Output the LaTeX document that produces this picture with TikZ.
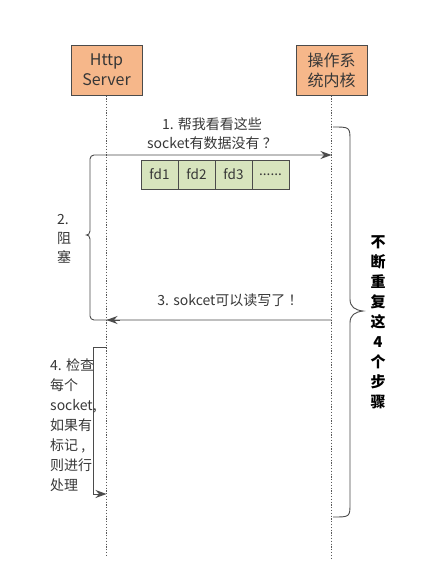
\documentclass[tikz,border=0pt]{standalone}
\usepackage{fontspec}
\setmainfont{Noto Sans CJK SC}
\usetikzlibrary{arrows.meta}
\definecolor{boxorange}{RGB}{246,183,138}
\definecolor{fdgreen}{RGB}{215,228,189}
\definecolor{linegray}{RGB}{75,75,75}
\definecolor{txtgray}{RGB}{55,55,55}
\begin{document}
\begin{tikzpicture}[x=1pt,y=-1pt,
  actor/.style={draw=linegray,fill=boxorange,line width=1pt,minimum width=71pt,minimum height=50pt,align=center,font=\fontsize{16}{20}\selectfont,text=txtgray,inner sep=0pt},
  fdbox/.style={draw=linegray,fill=fdgreen,line width=0.9pt,minimum width=37pt,minimum height=29pt,inner sep=0pt,font=\fontsize{13.5}{16}\selectfont,text=txtgray},
  lifeline/.style={draw=gray!70!black,line width=1.2pt,dash pattern=on 1.2pt off 1.6pt},
  msg/.style={draw=linegray,line width=0.9pt},
  tip/.style={-{Stealth[length=11pt,width=8pt]}},
  lbl/.style={font=\fontsize{14}{19}\selectfont,text=txtgray,align=center,inner sep=0pt}]
\useasboundingbox (0,0) rectangle (426,571);
% actors and lifelines
\node[actor] (http) at (106.5,70) {Http\\Server};
\node[actor] (os) at (331.5,70) {操作系\\统内核};
\coordinate (httpEnd) at (106.5,555);
\coordinate (osEnd) at (331.5,560);
\draw[lifeline] (http.south) -- (httpEnd);
\draw[lifeline] (os.south) -- (osEnd);
% message 1 / blocking loop / message 3
\coordinate (k1) at (331.5,155);
\coordinate (k3) at (331.5,320);
\coordinate (h3) at (106.5,320);
\coordinate (h3r) at (120,320);
\coordinate (lb1) at (90,231);
\coordinate (lb2) at (90,239);
\coordinate (bt) at (86.5,235);
\draw[msg,rounded corners=4pt] (k3) -| (lb2);
\draw[msg] (lb2) .. controls (90,236) and (88,235) .. (bt) .. controls (88,235) and (90,234) .. (lb1);
\draw[msg,tip,rounded corners=4pt] (lb1) |- (k1);
\draw[msg,tip] (h3r) -- (h3);
\node[lbl] (m1) at (212,134) {1. 帮我看看这些\\socket有数据没有 ？};
\node[lbl,align=left,anchor=west] (m2) at (57,239) {2.\\阻\\塞};
\node[lbl] (m3) at (230,300) {3. sokcet可以读写了 ！};
% fd array
\node[fdbox] (fd1) at (159.5,174.5) {fd1};
\node[fdbox] (fd2) at (196.5,174.5) {fd2};
\node[fdbox] (fd3) at (233.5,174.5) {fd3};
\node[fdbox] (fd4) at (270.5,174.5) {......};
% step 4
\coordinate (h4a) at (106.5,347);
\coordinate (h4b) at (106.5,494);
\coordinate (s4a) at (93,347);
\coordinate (s4b) at (93,494);
\draw[msg,tip] (h4a) -- (s4a) -- (s4b) -- (h4b);
\node[lbl,align=left,anchor=west,font=\fontsize{14}{20}\selectfont] (m4) at (50,425) {4. 检查\\每个\\socket,\\如果有\\标记 ,\\则进行\\处理};
% right brace
\coordinate (rb1) at (333,127);
\coordinate (rb2) at (333,517);
\coordinate (rbt) at (363,311);
\draw[msg] (rb1) .. controls (350,127) and (350,127) .. (350,141) -- (350,299)
  .. controls (350,307) and (355,310) .. (rbt)
  .. controls (355,312) and (350,315) .. (350,323) -- (350,503)
  .. controls (350,517) and (350,517) .. (rb2);
\node[font=\bfseries\fontsize{15}{20}\selectfont,align=center,inner sep=0pt,text=black] (rep) at (378,322.5) {不\\断\\重\\复\\这\\4\\个\\步\\骤};
\end{tikzpicture}
\end{document}
